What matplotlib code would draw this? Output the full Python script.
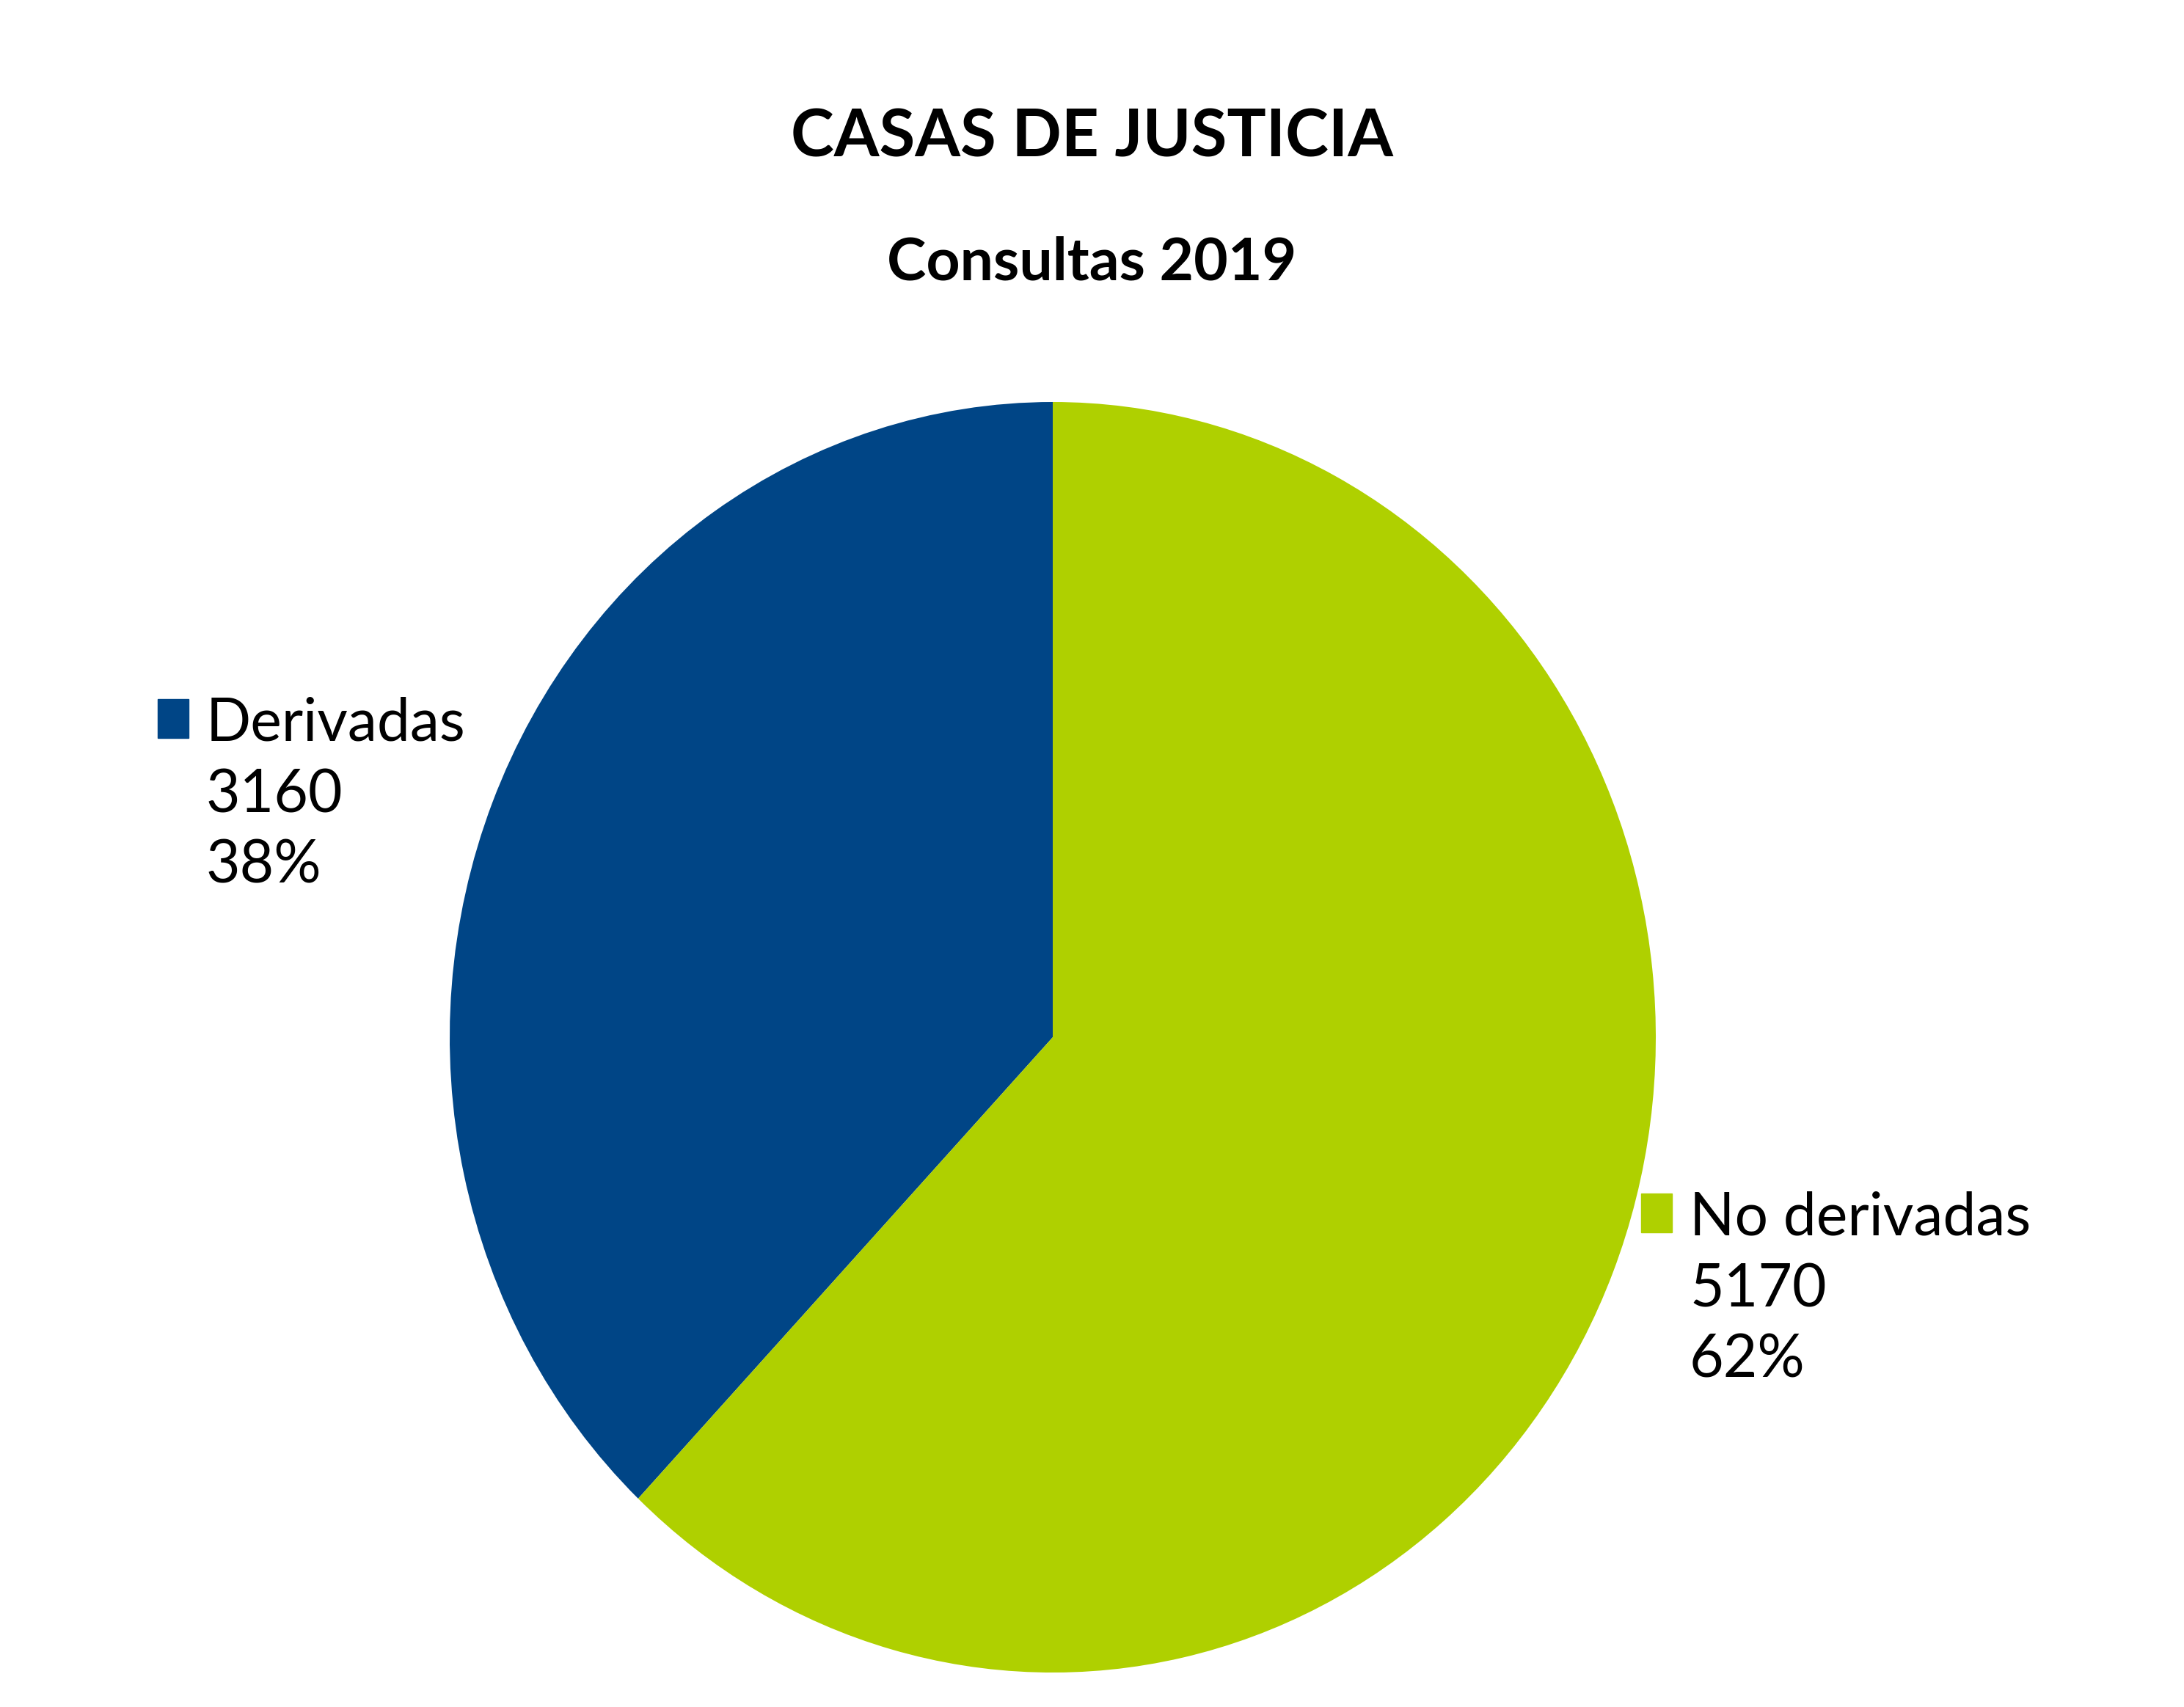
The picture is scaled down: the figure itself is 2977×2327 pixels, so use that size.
import matplotlib
matplotlib.use("Agg")
import matplotlib.pyplot as plt
from matplotlib.patches import Rectangle

# data
categories = ["Derivadas", "No derivadas"]
values = [3160, 5170]
colors = ["#004586", "#AFD000"]
title = "CASAS DE JUSTICIA"
subtitle = "Consultas 2019"

W, H = 2977, 2327
plt.rcParams["font.family"] = ["Lato", "DejaVu Sans"]

fig = plt.figure(figsize=(W / 100, H / 100), dpi=100)
fig.patch.set_facecolor("white")

# pie axes (slightly taller than wide, as in the reference)
cx, cy, rx, ry = 1435, 1414, 822, 866
ax = fig.add_axes([(cx - rx) / W, (H - cy - ry) / H, 2 * rx / W, 2 * ry / H])
ax.pie(values, colors=colors, startangle=90, counterclock=True,
       wedgeprops=dict(linewidth=0))
ax.set_aspect("auto")
ax.set_xlim(-1, 1)
ax.set_ylim(-1, 1)

fig.text(0.5, 1 - 188 / H, title, ha="center", va="center",
         fontsize=64, fontweight="bold")
fig.text(0.5, 1 - 358 / H, subtitle, ha="center", va="center",
         fontsize=58, fontweight="bold")

# labels: name, value, percent next to a colour square
total = sum(values)
label_pos = [(215, 953), (2237, 1627)]  # top-left of square, px
for (name, v, c, (x, y)) in zip(categories, values, colors, label_pos):
    fig.patches.append(Rectangle((x / W, 1 - (y + 53) / H), 42 / W, 53 / H,
                                 transform=fig.transFigure, color=c))
    lines = [name, str(v), f"{round(100 * v / total)}%"]
    for i, t in enumerate(lines):
        fig.text((x + 66) / W, 1 - (y + 34 + i * 97) / H, t,
                 ha="left", va="center", fontsize=58)

fig.savefig("out.png", dpi=100, facecolor="white")
